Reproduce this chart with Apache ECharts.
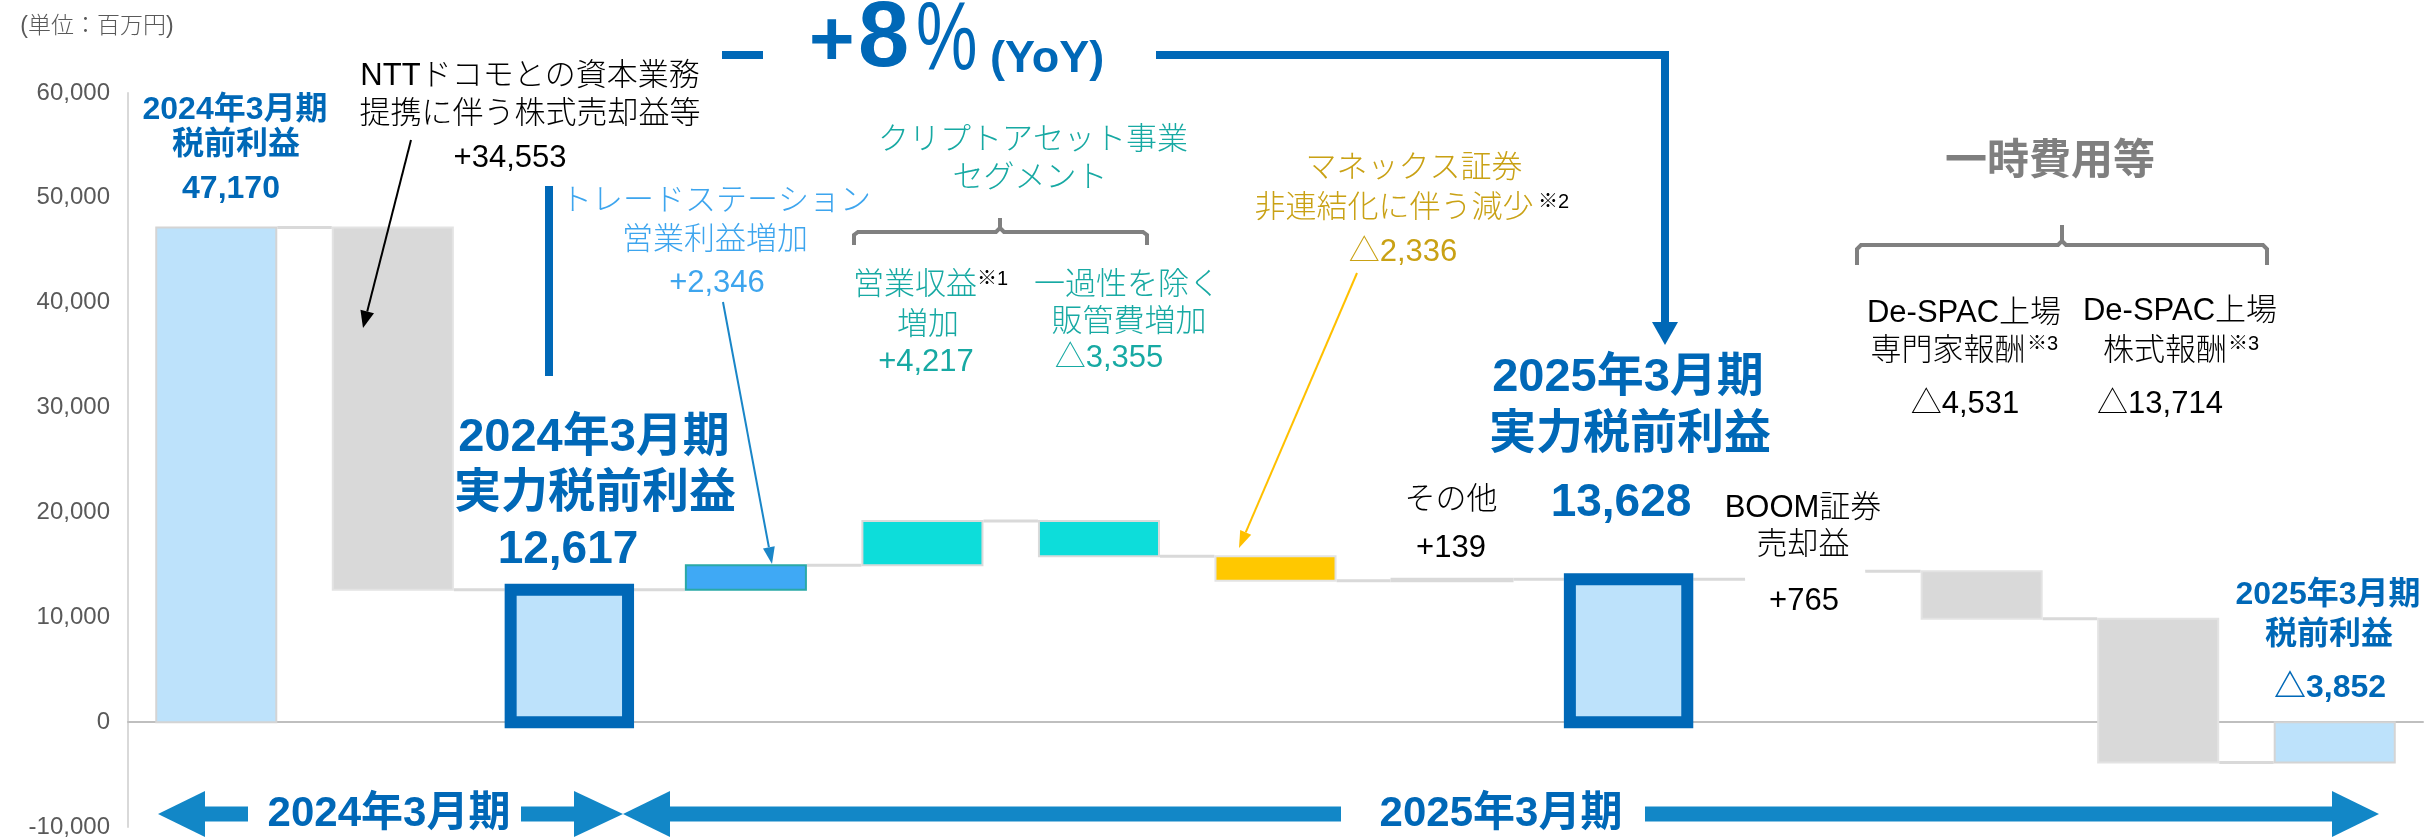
<!DOCTYPE html>
<html>
<head>
<meta charset="utf-8">
<script src="https://cdn.jsdelivr.net/npm/echarts@6/dist/echarts.min.js"></script>
<style>
  html, body { margin: 0; padding: 0; background: #fff; }
  #main { width: 2425px; height: 839px; }
</style>
</head>
<body>
<div id="main"></div>
<script>
// 項目（左から順に）
const categories = [
  '2024年3月期 税前利益',
  'NTTドコモとの資本業務提携に伴う株式売却益等',
  '2024年3月期 実力税前利益',
  'トレードステーション営業利益増加',
  'クリプトアセット 営業収益増加',
  'クリプトアセット 一過性を除く販管費増加',
  'マネックス証券非連結化に伴う減少',
  'その他',
  '2025年3月期 実力税前利益',
  'BOOM証券売却益',
  'De-SPAC上場 専門家報酬',
  'De-SPAC上場 株式報酬',
  '2025年3月期 税前利益'
]
// 増減（百万円）。合計の棒は0からの値
const values = [47170, -34553, 12617, 2346, 4217, -3355, -2336, 139, 13628, 765, -4531, -13714, -3852]
const isTotal = [true, false, true, false, false, false, false, false, true, false, false, false, true]
// 縦軸の目盛
const yMin = -10000
const yMax = 60000
const yStep = 10000

// 棒の見た目（データとは別に持つ）
const LIGHT = '#BDE2FB', GRAY = '#D9D9D9', NAVY = '#0068B7'
const barStyles = [
  { fill: LIGHT, stroke: '#D4D4D4', lineWidth: 2, ratio: 0.68 },
  { fill: GRAY, stroke: '#E3E3E3', lineWidth: 2, ratio: 0.68 },
  { fill: LIGHT, stroke: NAVY, lineWidth: 12, ratio: 0.665 },
  { fill: '#3FA9F5', stroke: '#2AA9A6', lineWidth: 2, ratio: 0.68 },
  { fill: '#0DDDDA', stroke: '#DADADA', lineWidth: 2, ratio: 0.68 },
  { fill: '#0DDDDA', stroke: '#DADADA', lineWidth: 2, ratio: 0.68 },
  { fill: '#FFC800', stroke: '#E3E3E3', lineWidth: 2, ratio: 0.68 },
  { fill: '#FFFFFF', stroke: '#D9D9D9', lineWidth: 3, ratio: 0.68 },
  { fill: LIGHT, stroke: NAVY, lineWidth: 12, ratio: 0.665 },
  { fill: '#FFFFFF', stroke: null, lineWidth: 0, ratio: 0.68 },
  { fill: GRAY, stroke: '#E3E3E3', lineWidth: 2, ratio: 0.68 },
  { fill: GRAY, stroke: '#E3E3E3', lineWidth: 2, ratio: 0.68 },
  { fill: LIGHT, stroke: '#D4D4D4', lineWidth: 2, ratio: 0.68 }
]

// 滝グラフの上下端と、次の棒へのつなぎ線
const barRows = []
const linkRows = []
let running = 0
values.forEach(function (v, i) {
  let start, end
  if (isTotal[i]) { start = 0; end = v }
  else { start = running; end = running + v }
  running = end
  barRows.push([i, Math.min(start, end), Math.max(start, end)])
  if (i < values.length - 1) linkRows.push([i, end])
})

const FONT = '"Liberation Sans", Arial, "Noto Sans CJK JP", sans-serif'

function renderBar(params, api) {
  const i = api.value(0)
  const top = api.coord([i, api.value(2)])
  const bottom = api.coord([i, api.value(1)])
  const s = barStyles[i]
  const w = api.size([1, 0])[0] * s.ratio
  return {
    type: 'rect',
    shape: { x: top[0] - w / 2, y: top[1], width: w, height: Math.max(bottom[1] - top[1], 1) },
    style: { fill: s.fill, stroke: s.stroke, lineWidth: s.lineWidth }
  }
}

function renderLink(params, api) {
  const i = api.value(0)
  const a = api.coord([i, api.value(1)])
  const b = api.coord([i + 1, api.value(1)])
  const band = api.size([1, 0])[0]
  const x1 = a[0] + band * barStyles[i].ratio / 2 + barStyles[i].lineWidth / 2
  const x2 = b[0] - band * barStyles[i + 1].ratio / 2 - barStyles[i + 1].lineWidth / 2
  return {
    type: 'line',
    shape: { x1: x1, y1: a[1], x2: x2, y2: a[1] },
    style: { stroke: '#D9D9D9', lineWidth: 3 }
  }
}

// 文字
function label(x, y, text, size, color, weight, align) {
  return {
    type: 'text', x: x, y: y, z: 100,
    style: {
      text: text, fill: color, fontSize: size, fontWeight: weight || 300,
      fontFamily: FONT, textAlign: align || 'center', textVerticalAlign: 'middle'
    }
  }
}
// 線
function seg(points, color, width) {
  return { type: 'polyline', z: 90, shape: { points: points }, style: { stroke: color, lineWidth: width, fill: null } }
}
function tri(points, color) {
  return { type: 'polygon', z: 90, shape: { points: points }, style: { fill: color } }
}
// 細い矢印
function arrow(x1, y1, x2, y2, color, width, len, half) {
  const a = Math.atan2(y2 - y1, x2 - x1)
  const bx = x2 - len * Math.cos(a), by = y2 - len * Math.sin(a)
  const nx = -Math.sin(a) * half, ny = Math.cos(a) * half
  return [
    seg([[x1, y1], [bx, by]], color, width),
    tri([[x2, y2], [bx + nx, by + ny], [bx - nx, by - ny]], color)
  ]
}

const BLUE_TXT = '#0068B7'
const SKY = '#3DA5EE'
const TEAL = '#17A9A3'
const GOLD = '#C9A114'
const BAR_ARROW = '#1287C7'
const BRACE = '#808080'

// 細長い％記号
const pct = label(916, 43, '%', 96, BLUE_TXT, 'normal', 'left')
pct.scaleX = 0.72

const graphics = [
  label(97, 27, '(単位：百万円)', 23, '#595959'),

  label(235, 110, '2024年3月期', 32, BLUE_TXT, 'bold'),
  label(236, 145, '税前利益', 32, BLUE_TXT, 'bold'),
  label(231, 189, '47,170', 32, BLUE_TXT, 'bold'),

  label(530, 76, 'NTTドコモとの資本業務', 31, '#000'),
  label(530, 114, '提携に伴う株式売却益等', 31, '#000'),
  label(510, 158, '+34,553', 31, '#000'),

  label(716, 201, 'トレードステーション', 31, SKY),
  label(715, 240, '営業利益増加', 31, SKY),
  label(717, 283, '+2,346', 31, SKY),

  label(1033, 140, 'クリプトアセット事業', 31, TEAL),
  label(1030, 178, 'セグメント', 31, TEAL),
  label(915, 285, '営業収益', 31, TEAL),
  label(977, 279, '※1', 20, '#000', 'normal', 'left'),
  label(928, 325, '増加', 31, TEAL),
  label(926, 362, '+4,217', 31, TEAL),
  label(1127, 285, '一過性を除く', 31, TEAL),
  label(1129, 322, '販管費増加', 31, TEAL),
  label(1109, 358, '△3,355', 31, TEAL),

  label(1414, 168, 'マネックス証券', 31, GOLD),
  label(1394, 208, '非連結化に伴う減少', 31, GOLD),
  label(1538, 202, '※2', 20, '#000', 'normal', 'left'),
  label(1403, 252, '△2,336', 31, GOLD),

  label(594, 438, '2024年3月期', 47, BLUE_TXT, 'bold'),
  label(595, 494, '実力税前利益', 47, BLUE_TXT, 'bold'),
  label(568, 550, '12,617', 46, BLUE_TXT, 'bold'),

  label(1628, 378, '2025年3月期', 47, BLUE_TXT, 'bold'),
  label(1630, 435, '実力税前利益', 47, BLUE_TXT, 'bold'),
  label(1621, 503, '13,628', 46, BLUE_TXT, 'bold'),

  label(1451, 500, 'その他', 31, '#000'),
  label(1451, 548, '+139', 31, '#000'),

  label(1803, 508, 'BOOM証券', 31, '#000'),
  label(1803, 545, '売却益', 31, '#000'),
  label(1804, 601, '+765', 31, '#000'),

  label(2050, 162, '一時費用等', 42, '#7F7F7F', 'bold'),
  label(1964, 313, 'De-SPAC上場', 31, '#000'),
  label(1948, 351, '専門家報酬', 31, '#000'),
  label(2027, 344, '※3', 20, '#000', 'normal', 'left'),
  label(1965, 404, '△4,531', 31, '#000'),
  label(2180, 311, 'De-SPAC上場', 31, '#000'),
  label(2165, 351, '株式報酬', 31, '#000'),
  label(2228, 344, '※3', 20, '#000', 'normal', 'left'),
  label(2160, 404, '△13,714', 31, '#000'),

  label(2328, 595, '2025年3月期', 32, BLUE_TXT, 'bold'),
  label(2329, 635, '税前利益', 32, BLUE_TXT, 'bold'),
  label(2330, 688, '△3,852', 32, BLUE_TXT, 'bold'),

  // +8%(YoY)
  label(809, 43, '+', 78, BLUE_TXT, 'bold', 'left'),
  label(858, 41, '8', 92, BLUE_TXT, 'bold', 'left'),
  pct,
  label(990, 60, '(YoY)', 45, BLUE_TXT, 'bold', 'left'),

  label(389, 814, '2024年3月期', 42, BLUE_TXT, 'bold'),
  label(1501, 814, '2025年3月期', 42, BLUE_TXT, 'bold'),

  // 前年比の大きな矢印
  seg([[549, 186], [549, 376]], NAVY, 8),
  seg([[722, 55], [763, 55]], NAVY, 8),
  seg([[1156, 55], [1665, 55], [1665, 325]], NAVY, 8),
  tri([[1652, 322], [1678, 322], [1665, 345]], NAVY),

  // かっこ
  seg([[854, 245], [854, 235], [858, 232], [996, 232], [1000, 228], [1000, 218]], BRACE, 4),
  seg([[1000, 228], [1004, 232], [1143, 232], [1147, 235], [1147, 245]], BRACE, 4),
  seg([[1857, 265], [1857, 249], [1861, 245], [2058, 245], [2062, 241], [2062, 225]], BRACE, 4),
  seg([[2062, 241], [2066, 245], [2263, 245], [2267, 249], [2267, 265]], BRACE, 4),

  // 期間の矢印
  tri([[158, 814], [205, 791], [205, 837]], BAR_ARROW),
  { type: 'rect', z: 90, shape: { x: 204, y: 806.5, width: 44, height: 15 }, style: { fill: BAR_ARROW } },
  { type: 'rect', z: 90, shape: { x: 521, y: 806.5, width: 54, height: 15 }, style: { fill: BAR_ARROW } },
  tri([[623, 814], [574, 791], [574, 837]], BAR_ARROW),
  tri([[623, 814], [670, 791], [670, 837]], BAR_ARROW),
  { type: 'rect', z: 90, shape: { x: 669, y: 806.5, width: 672, height: 15 }, style: { fill: BAR_ARROW } },
  { type: 'rect', z: 90, shape: { x: 1645, y: 806.5, width: 688, height: 15 }, style: { fill: BAR_ARROW } },
  tri([[2379, 814], [2332, 791], [2332, 837]], BAR_ARROW)
]
  .concat(arrow(411, 140, 363, 328, '#000', 2, 17, 7))
  .concat(arrow(723, 302, 772, 564, '#1A86C8', 2, 17, 6))
  .concat(arrow(1357, 273, 1239, 548, '#FFC000', 2, 17, 6))

const myChart = echarts.init(document.getElementById('main'))
const option = {
  animation: false,
  backgroundColor: '#fff',
  grid: { left: 128, right: 2, top: 93, bottom: 12 },
  xAxis: {
    type: 'category',
    data: categories,
    axisLine: { onZero: true, lineStyle: { color: '#BFBFBF', width: 2 } },
    axisTick: { show: false },
    axisLabel: { show: false }
  },
  yAxis: {
    type: 'value',
    min: yMin,
    max: yMax,
    interval: yStep,
    axisLine: { show: true, lineStyle: { color: '#D9D9D9', width: 2 } },
    axisTick: { show: false },
    splitLine: { show: false },
    axisLabel: {
      fontSize: 24, color: '#595959', margin: 18, fontFamily: FONT,
      formatter: function (v) { return v.toLocaleString('en-US') }
    }
  },
  series: [
    { type: 'custom', name: 'link', renderItem: renderLink, data: linkRows, encode: { x: 0, y: 1 }, z: 1 },
    { type: 'custom', name: 'bar', renderItem: renderBar, data: barRows, encode: { x: 0, y: [1, 2] }, z: 2 }
  ],
  graphic: graphics
}
myChart.setOption(option)
</script>
</body>
</html>
